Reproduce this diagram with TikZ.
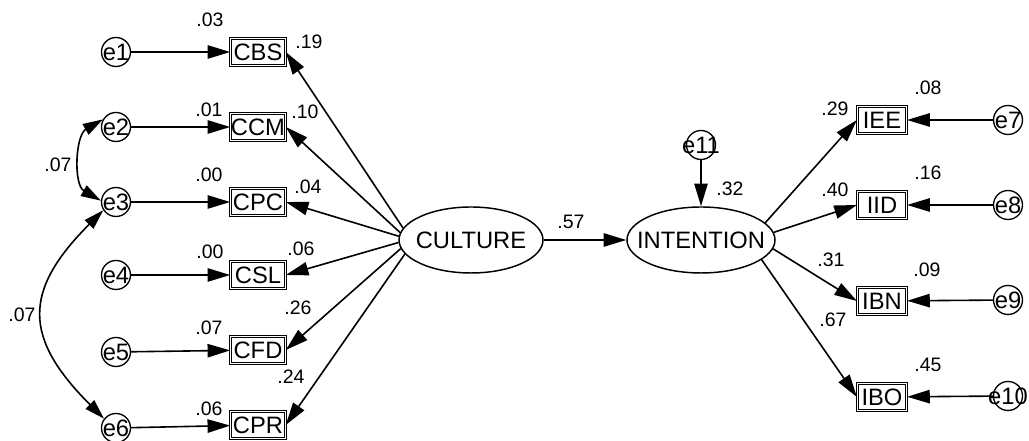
\documentclass[tikz,border=0pt]{standalone}
\usepackage{fontspec}
\setmainfont{Liberation Sans}
\usetikzlibrary{arrows.meta, shapes.geometric}
\newcommand{\zbox}[1]{\makebox[0pt]{#1}}

\begin{document}
\begin{tikzpicture}[x=0.75pt, y=0.75pt, line width=1.2pt,
  err/.style={shape=circle, minimum size=21.75pt, inner sep=0pt, draw=black, line width=1pt, font=\fontsize{17.8}{19}\selectfont},
  obs/.style={shape=rectangle, minimum height=20pt, inner sep=0pt, draw=black, double, double distance=0.6pt, line width=0.65pt, font=\fontsize{17.8}{19}\selectfont},
  lat/.style={shape=ellipse, minimum height=49.5pt, inner sep=0pt, draw=black, line width=1.1pt, font=\fontsize{17.8}{19}\selectfont},
  est/.style={inner sep=0pt, font=\fontsize{14.6}{16}\selectfont},
  reg/.style={-{Triangle[length=17pt, width=10pt]}},
  cov/.style={{Triangle[length=15pt, width=9pt]}-{Triangle[length=15pt, width=9pt]}}]
\useasboundingbox (0,0) rectangle (1029,441);
%errors left
\node[err] (e1) at (116,389) {\zbox{e1}};
\node[err] (e2) at (116,314) {\zbox{e2}};
\node[err] (e3) at (116,239) {\zbox{e3}};
\node[err] (e4) at (116,166) {\zbox{e4}};
\node[err] (e5) at (116,89) {\zbox{e5}};
\node[err] (e6) at (116,13) {\zbox{e6}};
%culture indicators
\node[obs, minimum width=41pt] (cbs) at (258,389) {CBS};
\node[obs, minimum width=41pt] (ccm) at (258,314) {CCM};
\node[obs, minimum width=41pt] (cpc) at (258,239) {CPC};
\node[obs, minimum width=41pt] (csl) at (258,166) {CSL};
\node[obs, minimum width=41pt] (cfd) at (258,91) {CFD};
\node[obs, minimum width=41pt] (cpr) at (258,16) {CPR};
%latent
\node[lat, minimum width=108pt] (culture) at (471,201) {\zbox{CULTURE}};
\node[lat, minimum width=111pt] (intention) at (701,201) {\zbox{INTENTION}};
\node[err] (e11) at (701,296) {\zbox{e11}};
%intention indicators
\node[obs, minimum width=37pt] (iee) at (882,321) {IEE};
\node[obs, minimum width=37pt] (iid) at (882,236) {IID};
\node[obs, minimum width=37pt] (ibn) at (882,140) {IBN};
\node[obs, minimum width=37pt] (ibo) at (882,44) {IBO};
%errors right
\node[err] (e7) at (1008,321) {\zbox{e7}};
\node[err] (e8) at (1008,236) {\zbox{e8}};
\node[err] (e9) at (1008,141) {\zbox{e9}};
\node[err] (e10) at (1008,45) {\zbox{e10}};
%arrows
\draw[reg] (e1) -- (cbs);
\draw[reg] (e2) -- (ccm);
\draw[reg] (e3) -- (cpc);
\draw[reg] (e4) -- (csl);
\draw[reg] (e5) -- (cfd);
\draw[reg] (e6) -- (cpr);
\draw[reg] (culture.170) -- (cbs.east);
\draw[reg] (culture.174) -- (ccm.east);
\draw[reg] (culture.177) -- (cpc.east);
\draw[reg] (culture.182) -- (csl.east);
\draw[reg] (culture.187) -- (cfd.east);
\draw[reg] (culture.192) -- (cpr.east);
\draw[reg] (culture) -- (intention);
\draw[reg] (e11) -- (intention);
\draw[reg] (intention.15) -- (iee.west);
\draw[reg] (intention.6) -- (iid.west);
\draw[reg] (intention.-7) -- (ibn.west);
\draw[reg] (intention.-18) -- (ibo.west);
\draw[reg] (e7) -- (iee);
\draw[reg] (e8) -- (iid);
\draw[reg] (e9) -- (ibn);
\draw[reg] (e10) -- (ibo);
\draw[cov] (e2.150) to[out=210, in=150] (e3.175);
\draw[cov] (e3.213) to[out=225, in=135, looseness=1.4] (e6.142);
%estimates
\node[est] (r1) at (210,421) {.03};
\node[est] (l1) at (309,399) {.19};
\node[est] (r2) at (209,331) {.01};
\node[est] (l2) at (305,329) {.10};
\node[est] (c23) at (58,276) {.07};
\node[est] (r3) at (209,266) {.00};
\node[est] (l3) at (308,254) {.04};
\node[est] (r4) at (210,189) {.00};
\node[est] (l4) at (301,192) {.06};
\node[est] (c36) at (22,126) {.07};
\node[est] (l5) at (298,133) {.26};
\node[est] (r5) at (209,113) {.07};
\node[est] (l6) at (291,64) {.24};
\node[est] (r6) at (209,32) {.06};
\node[est] (b1) at (571,219) {.57};
\node[est] (r11) at (730,252) {.32};
\node[est] (l7) at (835,332) {.29};
\node[est] (r7) at (928,353) {.08};
\node[est] (l8) at (835,251) {.40};
\node[est] (r8) at (928,268) {.16};
\node[est] (l9) at (831,181) {.31};
\node[est] (r9) at (927,171) {.09};
\node[est] (l10) at (833,121) {.67};
\node[est] (r10) at (928,76) {.45};
\end{tikzpicture}
\end{document}
